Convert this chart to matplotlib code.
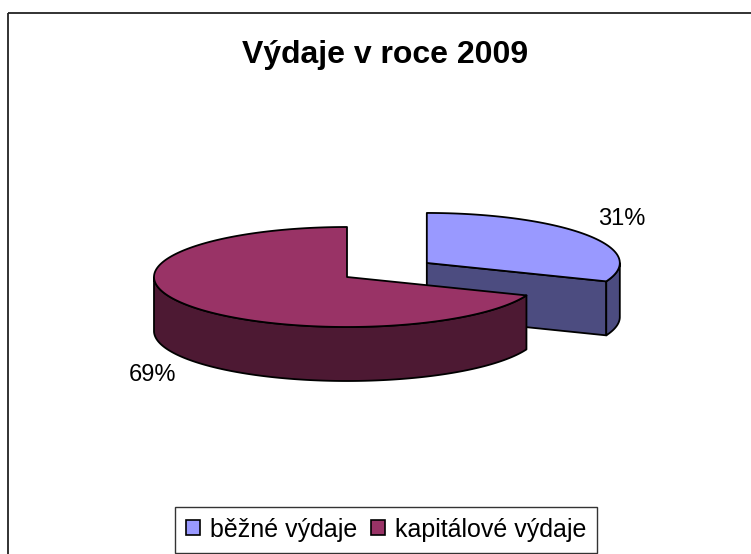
import numpy as np
import matplotlib
matplotlib.use("Agg")
import matplotlib.pyplot as plt
from matplotlib.patches import Polygon, Rectangle, Patch

plt.rcParams['font.family'] = ['Liberation Sans', 'DejaVu Sans']

# data
labels = ['běžné výdaje', 'kapitálové výdaje']
values = [31, 69]
explode = [0.5, 0.0]
top_colors = ['#9999ff', '#993366']
side_colors = ['#4c4c80', '#4d1933']
title = 'Výdaje v roce 2009'

# pie layout (pixel space)
cx, cy = 347, 277
rx, ry = 193, 50
depth = 54


def rim(x0, y0, t, dz=0):
    r = np.radians(t)
    return x0 + rx * np.cos(r), y0 - ry * np.sin(r) + dz


fig = plt.figure(figsize=(7.51, 5.54), dpi=100)
ax = fig.add_axes([0, 0, 1, 1])
ax.set_xlim(0, 751)
ax.set_ylim(554, 0)
ax.axis('off')

# chart border (right/bottom sides are cut off in the original)
ax.add_patch(Rectangle((7.5, 12.5), 800, 600, fill=False, edgecolor='#222222', lw=1.3))

total = float(sum(values))
slices = []
start = 90.0
for i, v in enumerate(values):
    a0 = start
    a1 = start - v / total * 360.0
    mid = (a0 + a1) / 2
    ox, oy = rim(0, 0, mid)
    x0 = cx + explode[i] * ox
    y0 = cy + explode[i] * oy
    slices.append((i, a0, a1, mid, x0, y0))
    start = a1

# back slices first
slices.sort(key=lambda s: s[5])

for i, a0, a1, mid, x0, y0 in slices:
    ec = dict(edgecolor='black', lw=1.3, joinstyle='round')
    # radial face at clockwise end
    if np.cos(np.radians(a1)) > 1e-6:
        px, py = rim(x0, y0, a1)
        ax.add_patch(Polygon([(x0, y0), (px, py), (px, py + depth), (x0, y0 + depth)],
                             facecolor=side_colors[i], **ec))
    # radial face at counter-clockwise start
    if np.cos(np.radians(a0)) < -1e-6:
        px, py = rim(x0, y0, a0)
        ax.add_patch(Polygon([(x0, y0), (px, py), (px, py + depth), (x0, y0 + depth)],
                             facecolor=side_colors[i], **ec))
    # outer wall, front half only
    t = np.linspace(a1, a0, 400)
    t = t[np.sin(np.radians(t)) <= 1e-9]
    if len(t) > 1:
        ux, uy = rim(x0, y0, t)
        lx, ly = rim(x0, y0, t[::-1], depth)
        pts = np.column_stack([np.concatenate([ux, lx]), np.concatenate([uy, ly])])
        ax.add_patch(Polygon(pts, facecolor=side_colors[i], **ec))
    # top
    t = np.linspace(a1, a0, 400)
    tx, ty = rim(x0, y0, t)
    pts = np.vstack([[x0, y0], np.column_stack([tx, ty])])
    ax.add_patch(Polygon(pts, facecolor=top_colors[i], **ec))

    # percentage label
    lx, ly = rim(x0, y0, mid)
    c, s = np.cos(np.radians(mid)), np.sin(np.radians(mid))
    lx += 35 * np.sign(c)
    ly += -16 * np.sign(s) + (depth if s < 0 else 0)
    ax.text(lx, ly, f'{round(values[i] / total * 100)}%', ha='center', va='center',
            fontsize=17, color='black')

ax.text(385, 63, title, ha='center', va='baseline', fontsize=23, fontweight='bold')

handles = [Patch(facecolor=top_colors[i], edgecolor='black', lw=1.2) for i in range(len(values))]
leg = fig.legend(handles, labels, loc='lower center', bbox_to_anchor=(386 / 751, 1 / 554),
                 ncol=2, frameon=True, fancybox=False, fontsize=18,
                 handlelength=0.55, handleheight=0.55, handletextpad=0.4,
                 columnspacing=0.55, borderpad=0.45, borderaxespad=0)
leg.get_frame().set_edgecolor('black')
leg.get_frame().set_linewidth(1.0)

fig.savefig('out.png', dpi=100)
